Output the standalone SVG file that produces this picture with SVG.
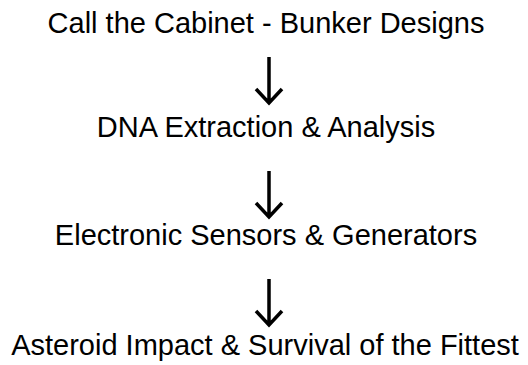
<svg xmlns="http://www.w3.org/2000/svg" width="528" height="365" viewBox="0 0 528 365">
<style>
text{font-family:"Liberation Sans",Arial,sans-serif;font-size:29px;fill:#000;text-anchor:middle}
.c{stroke:#000;stroke-width:3.5;fill:none;stroke-linejoin:miter}
</style>
<rect width="528" height="365" fill="#fff"/>
<g id="n1"><text x="266" y="33">Call the Cabinet - Bunker Designs</text></g>
<g id="n2"><text x="266" y="137">DNA Extraction &amp; Analysis</text></g>
<g id="n3"><text x="266" y="245">Electronic Sensors &amp; Generators</text></g>
<g id="n4"><text x="265" y="355">Asteroid Impact &amp; Survival of the Fittest</text></g>
<g id="connectors">
<path class="c" d="M269 57V102M256 89L269 103L282 89"/>
<path class="c" d="M269 171V216M256 203L269 217L282 203"/>
<path class="c" d="M269 279V324M256 311L269 325L282 311"/>
</g>
</svg>
